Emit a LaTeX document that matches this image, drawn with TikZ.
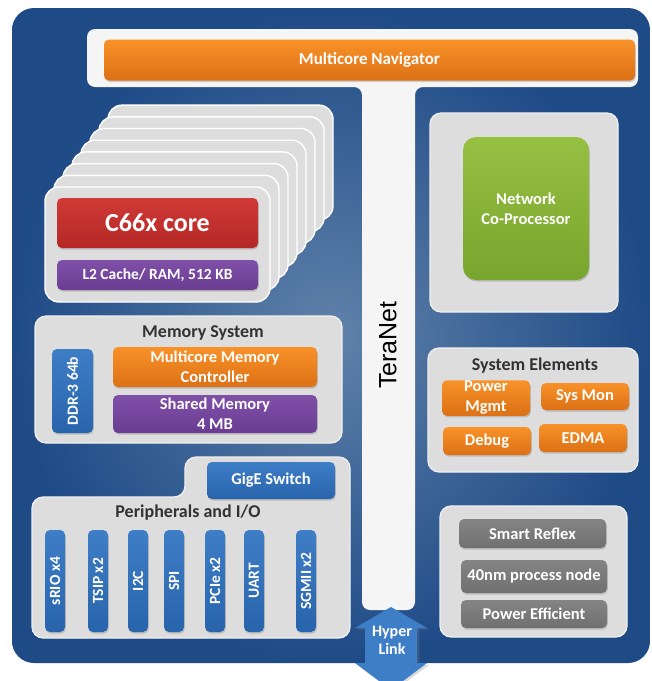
\documentclass[tikz,border=0pt]{standalone}
\usepackage{fontspec}
\setmainfont{Carlito}
\newfontfamily\teranetfont{Liberation Sans}
\usetikzlibrary{shadows}

\definecolor{chipblue}{RGB}{30,74,134}
\definecolor{chipmid}{RGB}{96,130,170}
\definecolor{panelgray}{RGB}{221,221,221}
\definecolor{paneledge}{RGB}{240,240,240}
\definecolor{navorange}{RGB}{248,146,40}
\definecolor{navorangedk}{RGB}{220,112,22}
\definecolor{corered}{RGB}{208,58,54}
\definecolor{coreredk}{RGB}{180,40,38}
\definecolor{l2purple}{RGB}{128,80,168}
\definecolor{l2purpledk}{RGB}{105,60,145}
\definecolor{ncpgreen}{RGB}{150,192,66}
\definecolor{ncpgreendk}{RGB}{120,165,45}
\definecolor{perblue}{RGB}{62,126,198}
\definecolor{perbluedk}{RGB}{40,100,172}
\definecolor{pwrgray}{RGB}{132,132,132}
\definecolor{pwrgraydk}{RGB}{112,112,112}
\definecolor{titlegray}{RGB}{50,50,50}

\newcommand\pxfont[2]{\fontsize{#1}{#2}\selectfont\bfseries}

\tikzset{
  panel/.style={draw=paneledge, line width=1.2pt, fill=panelgray, rounded corners=11pt},
  card/.style={draw=white, line width=1.4pt, fill=panelgray, rounded corners=14pt,
    minimum width=225, minimum height=115},
  unit/.style={rounded corners=5pt, text=white, align=center, inner sep=1pt,
    font=\pxfont{16.5}{20}, drop shadow={opacity=0.35, shadow xshift=0.8pt, shadow yshift=-1.6pt}},
  orangeunit/.style={unit, top color=navorange, bottom color=navorangedk},
  redunit/.style={unit, top color=corered, bottom color=coreredk},
  purpleunit/.style={unit, top color=l2purple, bottom color=l2purpledk},
  greenunit/.style={unit, rounded corners=13pt, top color=ncpgreen, bottom color=ncpgreendk},
  blueunit/.style={unit, top color=perblue, bottom color=perbluedk},
  barunit/.style={blueunit, rotate=90, minimum width=102, minimum height=20, font=\pxfont{15.5}{18}},
  grayunit/.style={unit, top color=pwrgray, bottom color=pwrgraydk},
  paneltitle/.style={text=titlegray, font=\pxfont{18}{20}, inner sep=0pt}
}

\begin{document}
\begin{tikzpicture}[x=1pt,y=-1pt]
  \useasboundingbox (0,0) rectangle (652,681);
  \clip (0,0) rectangle (652,681);
  % the chip
  \shade[rounded corners=22pt, inner color=chipmid, outer color=chipblue]
    (12,8) rectangle (650,663);
  % TeraNet and the navigator bar
  \fill[white!96!black, rounded corners=8pt] (87,29) -- (638,29) -- (638,87) -- (415,87)
    -- (415,610) -- (362,610) -- (362,87) -- (87,87) -- cycle;
  \node[orangeunit, minimum width=531, minimum height=41, font=\pxfont{17}{20}] (nav) at (369.5,60) {Multicore Navigator};
  \node[rotate=90, font=\teranetfont\fontsize{25}{25}\selectfont, inner sep=0pt] (teranet) at (388,345) {TeraNet};
  % hyperlink
  \fill[perblue, drop shadow={opacity=0.3, shadow yshift=-1.5pt}]
    (391,607) -- (427,628) -- (417,628) -- (417,663) -- (427,663) -- (391,690)
    -- (355,663) -- (365,663) -- (365,628) -- (355,628) -- cycle;
  \node[text=white, font=\pxfont{16}{18}, align=center, inner sep=0pt] (hyper) at (392,640) {Hyper\\Link};
  % the cores
  \foreach \k in {7,6,...,1}
    \node[card] (card\k) at ({157.5+9*\k},{244.5-11.7*\k}) {};
  \node[card] (card0) at (157.5,244.5) {};
  \node[redunit, minimum width=201, minimum height=50, font=\pxfont{26}{28}] (core) at (157.5,223) {C66x core};
  \node[purpleunit, minimum width=201, minimum height=30, font=\pxfont{15.5}{18}] (l2) at (157.5,275) {L2 Cache/ RAM, 512 KB};
  % memory system
  \node[panel, minimum width=307, minimum height=127] (mempanel) at (188.5,379.5) {};
  \node[paneltitle] (memtitle) at (203,333) {Memory System};
  \node[blueunit, rotate=90, minimum width=84, minimum height=41, font=\pxfont{15.5}{18}] (ddr) at (72.5,391) {DDR-3 64b};
  \node[orangeunit, minimum width=204, minimum height=40] (msmc) at (215,367) {Multicore Memory\\Controller};
  \node[purpleunit, minimum width=204, minimum height=38] (shared) at (215,414) {Shared Memory\\4 MB};
  % peripherals
  \draw[panel] (32,497) -- (185,497) -- (185,457) -- (350,457) -- (350,638) -- (32,638) -- cycle;
  \node[blueunit, minimum width=128, minimum height=37] (gige) at (271,480.5) {GigE Switch};
  \node[paneltitle] (pertitle) at (188,513) {Peripherals and I/O};
  \foreach \bx/\bname/\btext in {55/srio/sRIO x4, 98/tsip/TSIP x2, 138/itwoc/I2C, 174/spi/SPI,
      215/pcie/PCIe x2, 254/uart/UART, 306/sgmii/SGMII x2}
    \node[barunit] (\bname) at (\bx,581) {\btext};
  % network co-processor
  \node[panel, minimum width=188, minimum height=199] (ncppanel) at (524,212.5) {};
  \node[greenunit, minimum width=126, minimum height=143] (ncp) at (526,208.5) {Network\\Co-Processor};
  % system elements
  \node[panel, minimum width=210, minimum height=124] (syspanel) at (533,410) {};
  \node[paneltitle] (systitle) at (535,366) {System Elements};
  \node[orangeunit, minimum width=88, minimum height=30] (power) at (486,398) {Power\\Mgmt};
  \node[orangeunit, minimum width=88, minimum height=27] (sysmon) at (585,396.5) {Sys Mon};
  \node[orangeunit, minimum width=88, minimum height=28] (debug) at (487,441) {Debug};
  \node[orangeunit, minimum width=88, minimum height=28] (edma) at (583,438) {EDMA};
  % power
  \node[panel, minimum width=187, minimum height=131] (pwrpanel) at (533.5,571.5) {};
  \node[grayunit, minimum width=147, minimum height=29] (reflex) at (532.5,533.5) {Smart Reflex};
  \node[grayunit, minimum width=146, minimum height=33] (process) at (534,576.5) {40nm process node};
  \node[grayunit, minimum width=146, minimum height=28] (efficient) at (534,614) {Power Efficient};
\end{tikzpicture}
\end{document}
